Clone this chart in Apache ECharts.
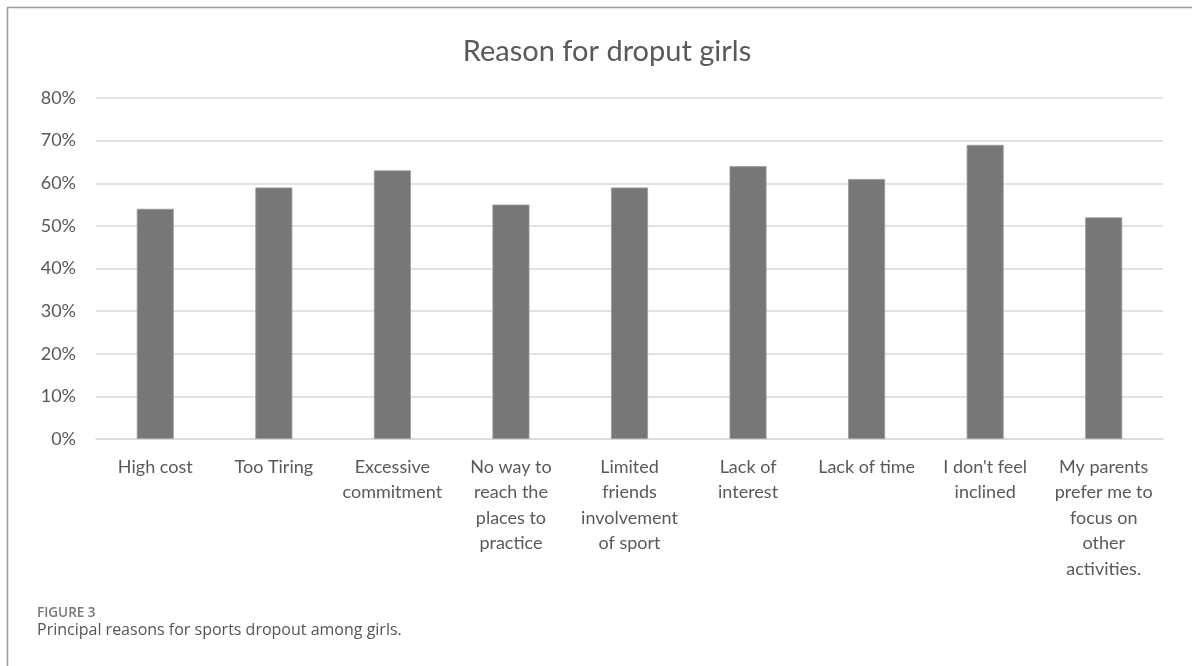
<!DOCTYPE html>
<html>
<head>
<meta charset="utf-8">
<script src="https://cdn.jsdelivr.net/npm/echarts@6/dist/echarts.min.js"></script>
<style>
html,body{margin:0;padding:0;background:#fff;}
#chart{width:1192px;height:666px;}
</style>
</head>
<body>
<div id="chart"></div>
<script>
const titleText = 'Reason for droput girls';
const categories = [
  'High cost',
  'Too Tiring',
  'Excessive\ncommitment',
  'No way to\nreach the\nplaces to\npractice',
  'Limited\nfriends\ninvolvement\nof sport',
  'Lack of\ninterest',
  'Lack of time',
  "I don't feel\ninclined",
  'My parents\nprefer me to\nfocus on\nother\nactivities.'
];
const values = [54, 59, 63, 55, 59, 64, 61, 69, 52];
const yTicks = [0, 10, 20, 30, 40, 50, 60, 70, 80];
const figureLabel = 'FIGURE 3';
const captionText = 'Principal reasons for sports dropout among girls.';

const chart = echarts.init(document.getElementById('chart'), null, {renderer: 'canvas'});
chart.setOption({
  backgroundColor: '#ffffff',
  animation: false,
  grid: {left: 96, right: 29, top: 98, bottom: 227, containLabel: false},
  xAxis: {
    type: 'category',
    data: categories,
    axisLine: {show: true, lineStyle: {color: '#d9d9d9', width: 1.5}},
    axisTick: {show: false},
    axisLabel: {
      interval: 0,
      color: '#595959',
      fontFamily: 'Lato',
      fontSize: 18,
      lineHeight: 25.5,
      margin: 15,
      align: 'center'
    }
  },
  yAxis: {
    type: 'value',
    min: yTicks[0],
    max: yTicks[yTicks.length - 1],
    interval: 10,
    axisLine: {show: false},
    axisTick: {show: false},
    splitLine: {show: true, lineStyle: {color: '#d9d9d9', width: 1.5}},
    axisLabel: {
      color: '#595959',
      fontFamily: 'Lato',
      fontSize: 18,
      margin: 20,
      formatter: v => v + '%'
    }
  },
  series: [{
    type: 'bar',
    data: values,
    barWidth: 37,
    itemStyle: {color: '#777777', borderColor: '#9a9a9a', borderWidth: 0.8}
  }],
  graphic: [
    {type: 'line', shape: {x1: 7, y1: 7.5, x2: 1192, y2: 7.5}, style: {stroke: '#9a9a9a', lineWidth: 1.5}},
    {type: 'line', shape: {x1: 7.5, y1: 7, x2: 7.5, y2: 666}, style: {stroke: '#9a9a9a', lineWidth: 1.5}},
    {type: 'text', x: 607, y: 52, style: {text: titleText, fill: '#595959', font: '29px Lato', textAlign: 'center', textVerticalAlign: 'middle'}},
    {type: 'text', x: 37, y: 613, style: {text: figureLabel, fill: '#777777', font: '600 13.5px "Open Sans"', textAlign: 'left', textVerticalAlign: 'middle'}},
    {type: 'text', x: 37, y: 630, style: {text: captionText, fill: '#555555', font: '16px "Open Sans"', textAlign: 'left', textVerticalAlign: 'middle'}}
  ]
});
</script>
</body>
</html>
